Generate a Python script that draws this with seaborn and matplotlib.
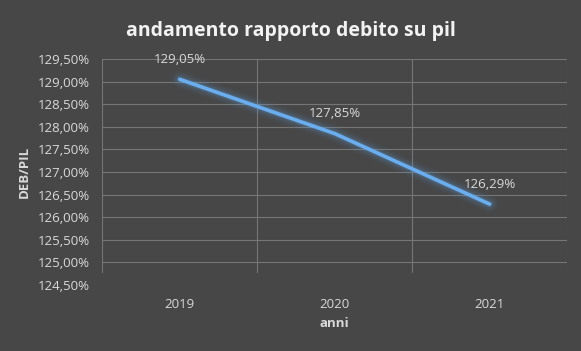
import matplotlib
matplotlib.use("Agg")
import matplotlib.pyplot as plt
import seaborn as sns
import pandas as pd
from matplotlib.ticker import FuncFormatter, MultipleLocator

# dati
anni = ["2019", "2020", "2021"]
deb_pil = [129.05, 127.85, 126.29]
etichette = ["129,05%", "127,85%", "126,29%"]

BG = "#474747"
GRID = "#767676"
TXT = "#d9d9d9"
LINE = "#5b9bd5"

df = pd.DataFrame({"anni": anni, "deb_pil": deb_pil})

sns.set_style("dark")
plt.rcParams["font.family"] = ["Open Sans", "DejaVu Sans"]

fig = plt.figure(figsize=(5.81, 3.51), dpi=100, facecolor=BG)
ax = fig.add_axes([0.176, 0.188, 0.800, 0.644], facecolor=BG)

# alone della linea
for lw, a in [(12, 0.05), (9, 0.07), (6.5, 0.10), (4.5, 0.18)]:
    sns.lineplot(data=df, x="anni", y="deb_pil", ax=ax, color=LINE,
                 linewidth=lw, alpha=a, sort=False, legend=False,
                 solid_capstyle="round")
sns.lineplot(data=df, x="anni", y="deb_pil", ax=ax, color="#6aaef0",
             linewidth=2.6, sort=False, legend=False)

for i, (v, t) in enumerate(zip(deb_pil, etichette)):
    ax.annotate(t, (i, v), xytext=(0, 20), textcoords="offset pixels",
                ha="center", va="center", color=TXT, fontsize=9.5)

ax.set_xlim(-0.5, 2.5)
ax.set_ylim(124.5, 129.5)
ax.yaxis.set_major_locator(MultipleLocator(0.5))
ax.yaxis.set_major_formatter(FuncFormatter(lambda v, p: f"{v:.2f}%".replace(".", ",")))

# griglia
ax.grid(False)
for y in [125 + 0.5 * k for k in range(10)]:
    ax.axhline(y, color=GRID, linewidth=0.8, zorder=0)
for x in [-0.5, 0.5, 1.5, 2.5]:
    ax.axvline(x, ymin=0.056, ymax=1, color=GRID, linewidth=0.8, zorder=0)

for s in ax.spines.values():
    s.set_visible(False)
ax.tick_params(axis="both", length=0, colors=TXT, labelsize=9.5)
ax.tick_params(axis="x", pad=9)
ax.tick_params(axis="y", pad=9)

ax.set_xlabel("anni", color=TXT, fontsize=9.5, fontweight="bold", labelpad=5)
ax.set_ylabel("DEB/PIL", color=TXT, fontsize=9.5, fontweight="bold", labelpad=5)
fig.suptitle("andamento rapporto debito su pil", color="#f2f2f2",
             fontsize=14, fontweight="bold", x=0.5, y=0.94)

fig.savefig("out.png", dpi=100, facecolor=BG)
